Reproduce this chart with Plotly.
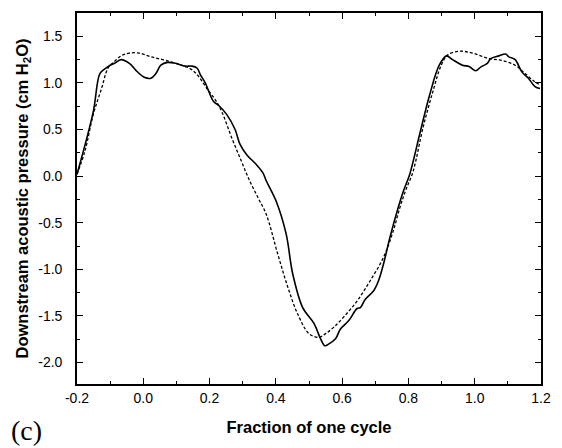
import plotly.graph_objects as go

# Solid (measured) curve
solid_x = [-0.2, -0.151, -0.131, -0.116, -0.1, -0.087, -0.067, -0.042, -0.018, 0.003, 0.023, 0.038,
           0.053, 0.073, 0.097, 0.127, 0.147, 0.162, 0.172, 0.187, 0.212, 0.227, 0.252, 0.277,
           0.292, 0.312, 0.341, 0.361, 0.371, 0.401, 0.431, 0.451, 0.481, 0.515, 0.535, 0.548,
           0.56, 0.58, 0.595, 0.62, 0.645, 0.655, 0.67, 0.695, 0.71, 0.725, 0.744, 0.769, 0.786,
           0.804, 0.834, 0.864, 0.893, 0.915, 0.933, 0.963, 0.983, 1.003, 1.018, 1.038, 1.048,
           1.073, 1.093, 1.103, 1.122, 1.142, 1.162, 1.182, 1.197]
solid_y = [0.02, 0.69, 1.10, 1.15, 1.19, 1.21, 1.25, 1.21, 1.12, 1.06, 1.05, 1.10,
           1.19, 1.22, 1.21, 1.18, 1.18, 1.16, 1.09, 1.00, 0.80, 0.76, 0.66, 0.50,
           0.34, 0.23, 0.125, 0.035, -0.05, -0.27, -0.62, -1.05, -1.41, -1.58, -1.745, -1.82,
           -1.80, -1.745, -1.64, -1.55, -1.42, -1.41, -1.32, -1.23, -1.12, -0.94, -0.66, -0.34, -0.15,
           0.02, 0.45, 0.87, 1.19, 1.29, 1.25, 1.19, 1.175, 1.13, 1.17, 1.21, 1.26,
           1.29, 1.31, 1.28, 1.25, 1.12, 1.05, 0.96, 0.94]

# Dashed (model) curve
dash_x = [-0.2, -0.176, -0.151, -0.126, -0.106, -0.087, -0.067, -0.042, -0.012, 0.023, 0.058,
          0.098, 0.127, 0.147, 0.167, 0.192, 0.217, 0.237, 0.267, 0.296, 0.321, 0.346, 0.371,
          0.406, 0.436, 0.466, 0.5, 0.53, 0.55, 0.575, 0.605, 0.645, 0.685, 0.725, 0.754, 0.774,
          0.792, 0.814, 0.844, 0.874, 0.899, 0.918, 0.953, 0.993, 1.043, 1.083, 1.122, 1.152,
          1.182, 1.197]
dash_y = [0.02, 0.27, 0.66, 0.94, 1.16, 1.23, 1.29, 1.32, 1.32, 1.28, 1.25,
          1.21, 1.175, 1.14, 1.07, 0.94, 0.82, 0.69, 0.41, 0.16, -0.05, -0.23, -0.41,
          -0.84, -1.19, -1.48, -1.69, -1.73, -1.69, -1.62, -1.51, -1.34, -1.12, -0.87, -0.59, -0.34,
          -0.15, 0.05, 0.52, 0.91, 1.19, 1.30, 1.34, 1.32, 1.26, 1.24, 1.19, 1.10,
          1.01, 0.98]

x_ticks = [-0.2, 0.0, 0.2, 0.4, 0.6, 0.8, 1.0, 1.2]
y_ticks = [-2.0, -1.5, -1.0, -0.5, 0.0, 0.5, 1.0, 1.5]

fig = go.Figure()
fig.add_trace(go.Scatter(x=dash_x, y=dash_y, mode="lines",
                         line=dict(color="black", width=1.3, dash="3px,2px"),
                         line_shape="spline", showlegend=False))
fig.add_trace(go.Scatter(x=solid_x, y=solid_y, mode="lines",
                         line=dict(color="black", width=1.6),
                         line_shape="spline", showlegend=False))

font = "Liberation Sans, Arial, sans-serif"
fig.update_layout(
    width=562, height=448,
    margin=dict(l=77, r=16, t=11, b=64),
    paper_bgcolor="white", plot_bgcolor="white",
    font=dict(family=font, size=14, color="black"),
    xaxis=dict(range=[-0.2, 1.2], tickvals=x_ticks,
               ticktext=[f"{v:.1f}" for v in x_ticks],
               ticks="inside", ticklen=6, tickwidth=1.2, tickcolor="black",
               showline=True, linecolor="black", linewidth=1.6, mirror="ticks",
               showgrid=False, zeroline=False,
               minor=dict(dtick=0.1, ticks="inside", ticklen=3, tickcolor="black", showgrid=False),
               title=dict(text="<b>Fraction of one cycle</b>", font=dict(size=16.5, family=font), standoff=17),
               tickfont=dict(size=14)),
    yaxis=dict(range=[-2.23, 1.75], tickvals=y_ticks,
               ticktext=[f"{v:.1f}" for v in y_ticks],
               ticks="inside", ticklen=6, tickwidth=1.2, tickcolor="black",
               showline=True, linecolor="black", linewidth=1.6, mirror="ticks",
               showgrid=False, zeroline=False, ticklabelstandoff=10,
               minor=dict(dtick=0.25, ticks="inside", ticklen=3, tickcolor="black", showgrid=False),
               title=dict(text="<b>Downstream acoustic pressure (cm H<sub>2</sub>O)</b>",
                          font=dict(size=16.5, family=font), standoff=6),
               tickfont=dict(size=14)),
)
fig.add_annotation(text="(c)", xref="paper", yref="paper", x=-0.147, y=-0.172,
                   xanchor="left", yanchor="bottom", showarrow=False,
                   font=dict(family="Liberation Serif, Times New Roman, serif", size=28, color="black"))

fig.write_html("out.html")
